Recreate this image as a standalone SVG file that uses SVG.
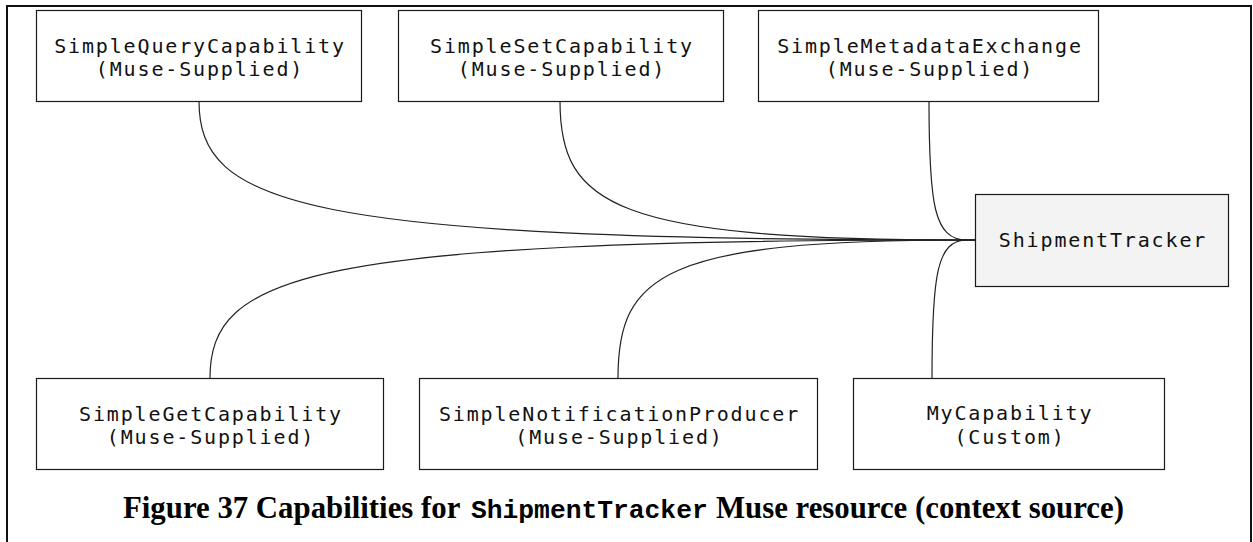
<svg xmlns="http://www.w3.org/2000/svg" width="1253" height="542" viewBox="0 0 1253 542">
<style>
.box{fill:#ffffff;stroke:#1a1a1a;stroke-width:1.2}
.main{fill:#f2f3f2;stroke:#1a1a1a;stroke-width:1.2}
.lbl{font-family:"DejaVu Sans Mono","Liberation Mono",monospace;font-size:20px;letter-spacing:1.85px;fill:#111;text-anchor:middle}
.conn{fill:none;stroke:#222;stroke-width:1.2}
.cap{font-family:"Liberation Serif","DejaVu Serif",serif;font-weight:bold;font-size:30.8px;fill:#000}
.capm{font-family:"Liberation Mono","DejaVu Sans Mono",monospace;font-weight:bold;font-size:26.3px}
</style>
<rect width="1253" height="542" fill="#ffffff"/>
<path d="M7,542 V6 H1251 V542" fill="none" stroke="#111" stroke-width="2"/>
<g id="connectors">
<path class="conn" d="M199,101 C199,205 300,240 967,240 L975,240"/>
<path class="conn" d="M560,101 C560,205 613,240 967,240 L975,240"/>
<path class="conn" d="M929,101 C929,205 934,240 967,240 L975,240"/>
<path class="conn" d="M210,378 C210,274.5 308,240 967,240 L975,240"/>
<path class="conn" d="M618,378 C618,274.5 663,240 967,240 L975,240"/>
<path class="conn" d="M932,378 C932,274.5 937,240 967,240 L975,240"/>
</g>
<g id="node-query">
<rect class="box" x="36.5" y="10.5" width="325" height="91"/>
<text class="lbl" x="200" y="52.5">SimpleQueryCapability</text>
<text class="lbl" x="200" y="75.5">(Muse-Supplied)</text>
</g>
<g id="node-set">
<rect class="box" x="398.5" y="10.5" width="325" height="91"/>
<text class="lbl" x="562" y="52.5">SimpleSetCapability</text>
<text class="lbl" x="562" y="75.5">(Muse-Supplied)</text>
</g>
<g id="node-metadata">
<rect class="box" x="758.5" y="10.5" width="340" height="91"/>
<text class="lbl" x="930" y="52.5">SimpleMetadataExchange</text>
<text class="lbl" x="930" y="75.5">(Muse-Supplied)</text>
</g>
<g id="node-shipmenttracker">
<rect class="main" x="975.5" y="194.5" width="253" height="92"/>
<text class="lbl" x="1103" y="246.5">ShipmentTracker</text>
</g>
<g id="node-get">
<rect class="box" x="36.5" y="378.5" width="347" height="91"/>
<text class="lbl" x="211" y="420.5">SimpleGetCapability</text>
<text class="lbl" x="211" y="443.5">(Muse-Supplied)</text>
</g>
<g id="node-notification">
<rect class="box" x="419.5" y="378.5" width="398" height="91"/>
<text class="lbl" x="619.5" y="420.5">SimpleNotificationProducer</text>
<text class="lbl" x="619.5" y="443.5">(Muse-Supplied)</text>
</g>
<g id="node-mycapability">
<rect class="box" x="853.5" y="378.5" width="311" height="91"/>
<text class="lbl" x="1010" y="419.5">MyCapability</text>
<text class="lbl" x="1010" y="443.5">(Custom)</text>
</g>
<text class="cap" y="518"><tspan x="123">Figure 37 Capabilities for</tspan><tspan class="capm" x="471">ShipmentTracker</tspan><tspan x="716">Muse resource (context source)</tspan></text>
</svg>
